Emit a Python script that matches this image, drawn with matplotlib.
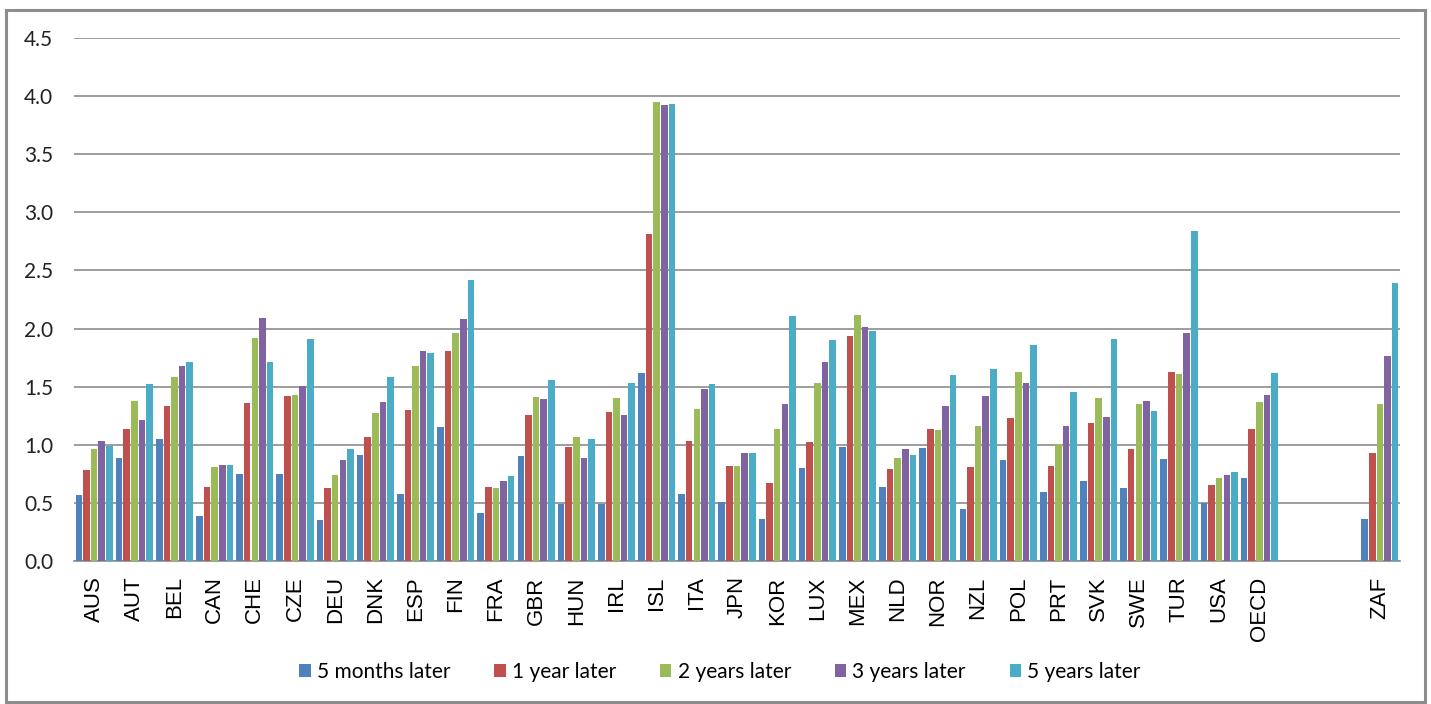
import numpy as np
import matplotlib
matplotlib.use("Agg")
import matplotlib.pyplot as plt
from matplotlib.patches import Rectangle, Patch

countries = ["AUS", "AUT", "BEL", "CAN", "CHE", "CZE", "DEU", "DNK", "ESP", "FIN",
             "FRA", "GBR", "HUN", "IRL", "ISL", "ITA", "JPN", "KOR", "LUX", "MEX",
             "NLD", "NOR", "NZL", "POL", "PRT", "SVK", "SWE", "TUR", "USA", "OECD",
             "ZAF"]

months_5 = [0.57, 0.89, 1.05, 0.39, 0.75, 0.75, 0.35, 0.91, 0.58, 1.15,
            0.41, 0.90, 0.49, 0.49, 1.62, 0.58, 0.51, 0.36, 0.80, 0.98,
            0.64, 0.97, 0.45, 0.87, 0.59, 0.69, 0.63, 0.88, 0.50, 0.71,
            0.36]
year_1 = [0.78, 1.14, 1.33, 0.64, 1.36, 1.42, 0.63, 1.07, 1.30, 1.81,
          0.64, 1.26, 0.98, 1.28, 2.81, 1.03, 0.82, 0.67, 1.02, 1.94,
          0.79, 1.14, 0.81, 1.23, 0.82, 1.19, 0.96, 1.63, 0.65, 1.14,
          0.93]
years_2 = [0.96, 1.38, 1.58, 0.81, 1.92, 1.43, 0.74, 1.27, 1.68, 1.96,
           0.63, 1.41, 1.07, 1.40, 3.95, 1.31, 0.82, 1.14, 1.53, 2.12,
           0.89, 1.13, 1.16, 1.63, 1.01, 1.40, 1.35, 1.61, 0.71, 1.37,
           1.35]
years_3 = [1.03, 1.21, 1.68, 0.83, 2.09, 1.51, 0.87, 1.37, 1.81, 2.08,
           0.69, 1.39, 0.89, 1.26, 3.92, 1.48, 0.93, 1.35, 1.71, 2.01,
           0.96, 1.33, 1.42, 1.53, 1.16, 1.24, 1.38, 1.96, 0.74, 1.43,
           1.76]
years_5 = [0.99, 1.52, 1.71, 0.83, 1.71, 1.91, 0.96, 1.58, 1.79, 2.42,
           0.73, 1.56, 1.05, 1.53, 3.93, 1.52, 0.93, 2.11, 1.90, 1.98,
           0.91, 1.60, 1.65, 1.86, 1.45, 1.91, 1.29, 2.84, 0.77, 1.62,
           2.39]

series_labels = ["5 months later", "1 year later", "2 years later",
                 "3 years later", "5 years later"]
series_values = [months_5, year_1, years_2, years_3, years_5]
colors = ["#4F81BD", "#C0504D", "#9BBB59", "#8064A2", "#4BACC6"]

# South Africa sits apart from the OECD block, after two empty slots
positions = np.arange(len(countries), dtype=float)
positions[-1] += 2

fig = plt.figure(figsize=(14.31, 7.04), dpi=100)
W, H = 1431, 704
ax = fig.add_axes([74 / W, 1 - 561 / H, (1400 - 74) / W, (561 - 38) / H])

pitch = 0.19
width = 0.165
for i, (vals, col) in enumerate(zip(series_values, colors)):
    ax.bar(positions + (i - 2) * pitch, vals, width=width, color=col,
           linewidth=0, zorder=3)

ax.set_xlim(-0.5, positions[-1] + 0.5)
ax.set_ylim(0, 4.5)
ax.set_yticks(np.arange(0, 4.51, 0.5))
ax.set_yticklabels([f"{v:.1f}" for v in np.arange(0, 4.51, 0.5)],
                   family="Lato", fontsize=15, color="#222222")
ax.set_xticks(positions)
ax.set_xticklabels(countries, rotation=90, family="Liberation Sans",
                   fontsize=16, color="black")
ax.tick_params(axis="y", length=0, pad=15)
ax.tick_params(axis="x", length=0, pad=11)
ax.grid(axis="y", color="#8C8C8C", linewidth=1.2, zorder=0)
for side in ("top", "right", "left"):
    ax.spines[side].set_visible(False)
ax.spines["bottom"].set_color("#8C8C8C")
ax.spines["bottom"].set_linewidth(1.2)

handles = [Patch(facecolor=c, edgecolor="none") for c in colors]
fig.legend(handles, series_labels, loc="center", bbox_to_anchor=(720 / W, 1 - 672 / H),
           ncol=5, frameon=False, prop={"family": "Lato", "size": 15},
           handlelength=0.55, handleheight=0.55, handletextpad=0.3,
           columnspacing=2.1)

# outer chart border
fig.patches.append(Rectangle((6 / W, 2 / H), 1419 / W, 692 / H,
                             transform=fig.transFigure, fill=False,
                             edgecolor="#8C8C8C", linewidth=2.2))

fig.savefig("out.png", dpi=100)
